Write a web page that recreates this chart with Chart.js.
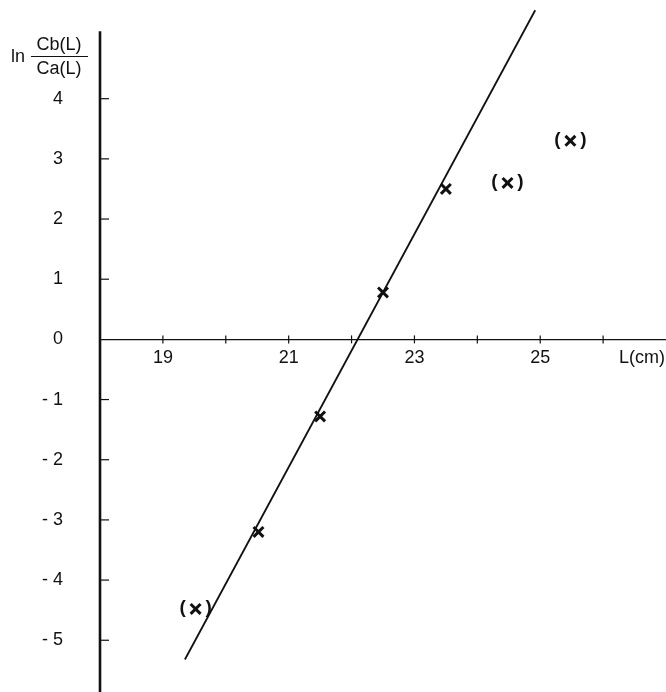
<!DOCTYPE html>
<html>
<head>
<meta charset="utf-8">
<script src="https://cdn.jsdelivr.net/npm/chart.js@4/dist/chart.umd.min.js"></script>
<style>
  html, body { margin: 0; padding: 0; background: #fff; }
  #wrap { width: 666px; height: 692px; }
</style>
</head>
<body>
<div id="wrap"><canvas id="chart"></canvas></div>
<script>
// measured points: L (cm) and ln Cb(L)/Ca(L)
const lengths = [19.52, 20.52, 21.5, 22.5, 23.5, 24.48, 25.48];
const lnRatio = [-4.48, -3.2, -1.28, 0.78, 2.5, 2.6, 3.3];
const doubtful = [true, false, false, false, false, true, true]; // shown as (x)

// fitted straight line, two end points
const fitL = [19.35, 24.92];
const fitY = [-5.32, 5.47];

const xTickLabels = [19, 21, 23, 25];
const yTicks = [-5, -4, -3, -2, -1, 0, 1, 2, 3, 4];
const xTicks = [19, 20, 21, 22, 23, 24, 25, 26];
const yAxisTop = 5.12;

const FONT = '"Liberation Sans", Arial, sans-serif';

const pointData = lengths.map((l, i) => ({ x: l, y: lnRatio[i] }));
const lineData = fitL.map((l, i) => ({ x: l, y: fitY[i] }));

// draws the axis decorations the old plot has (inner ticks, titles, brackets)
const decor = {
    id: 'decor',
    afterDraw(chart) {
        const ctx = chart.ctx;
        const xs = chart.scales.x;
        const ys = chart.scales.y;
        const x0 = xs.getPixelForValue(18);
        const y0 = ys.getPixelForValue(0);
        ctx.save();
        ctx.strokeStyle = '#111';

        // vertical axis
        ctx.lineWidth = 2.6;
        ctx.beginPath();
        ctx.moveTo(x0, ys.getPixelForValue(yAxisTop));
        ctx.lineTo(x0, chart.height);
        ctx.stroke();

        // y ticks, pointing right
        ctx.lineWidth = 1.2;
        yTicks.forEach((v) => {
            if (v === 0) return;
            const py = ys.getPixelForValue(v);
            ctx.beginPath();
            ctx.moveTo(x0, py);
            ctx.lineTo(x0 + 9, py);
            ctx.stroke();
        });

        // x ticks, small crossing marks
        xTicks.forEach((v) => {
            const px = xs.getPixelForValue(v);
            ctx.beginPath();
            ctx.moveTo(px, y0 - 4);
            ctx.lineTo(px, y0 + 4);
            ctx.stroke();
        });

        // brackets round the doubtful points
        ctx.fillStyle = '#111';
        ctx.font = 'bold 19px ' + FONT;
        ctx.textBaseline = 'middle';
        ctx.textAlign = 'center';
        pointData.forEach((p, i) => {
            if (!doubtful[i]) return;
            const px = xs.getPixelForValue(p.x);
            const py = ys.getPixelForValue(p.y);
            ctx.fillText('(', px - 13, py - 1);
            ctx.fillText(')', px + 13, py - 1);
        });

        // axis titles
        ctx.font = '18px ' + FONT;
        ctx.textAlign = 'center';
        ctx.fillText('L(cm)', 642, y0 + 19);

        ctx.font = '18px ' + FONT;
        ctx.textAlign = 'left';
        ctx.fillText('ln', 11, 57);
        ctx.textAlign = 'center';
        ctx.fillText('Cb(L)', 59, 45);
        ctx.fillText('Ca(L)', 59, 69);
        ctx.lineWidth = 1;
        ctx.beginPath();
        ctx.moveTo(31, 56.5);
        ctx.lineTo(88, 56.5);
        ctx.stroke();
        ctx.restore();
    }
};

new Chart(document.getElementById('chart'), {
    type: 'scatter',
    data: {
        datasets: [
            {
                label: 'measured',
                data: pointData,
                pointStyle: 'crossRot',
                pointRadius: 7,
                pointBorderWidth: 3,
                borderColor: '#111',
                backgroundColor: '#111',
                showLine: false
            },
            {
                label: 'fit',
                data: lineData,
                showLine: true,
                borderColor: '#111',
                borderWidth: 1.8,
                pointRadius: 0,
                fill: false
            }
        ]
    },
    options: {
        responsive: true,
        maintainAspectRatio: false,
        animation: false,
        layout: { padding: 0, autoPadding: false },
        plugins: {
            legend: { display: false },
            tooltip: { enabled: false }
        },
        scales: {
            x: {
                type: 'linear',
                position: { y: 0 },
                min: 18,
                max: 27,
                afterFit: (scale) => {
                    scale.height = 0;
                    scale.paddingLeft = 0;
                    scale.paddingRight = 0;
                },
                grid: { display: false },
                border: { display: true, color: '#111', width: 1.2 },
                ticks: {
                    stepSize: 1,
                    autoSkip: false,
                    maxRotation: 0,
                    padding: 0,
                    color: '#111',
                    font: { family: FONT, size: 18 },
                    callback: (v) => xTickLabels.includes(v) ? String(v) : ''
                }
            },
            y: {
                type: 'linear',
                position: 'left',
                min: -5.86,
                max: 5.64,
                afterFit: (scale) => {
                    scale.width = 100;
                    scale.paddingTop = 0;
                    scale.paddingBottom = 0;
                },
                grid: { display: false, drawTicks: true, tickLength: 37 },
                border: { display: false },
                ticks: {
                    stepSize: 1,
                    autoSkip: false,
                    padding: 0,
                    color: '#111',
                    font: { family: FONT, size: 18 },
                    callback: (v) => yTicks.includes(v) ? (v < 0 ? '- ' + Math.abs(v) : String(v)) : ''
                }
            }
        }
    },
    plugins: [decor]
});
</script>
</body>
</html>
